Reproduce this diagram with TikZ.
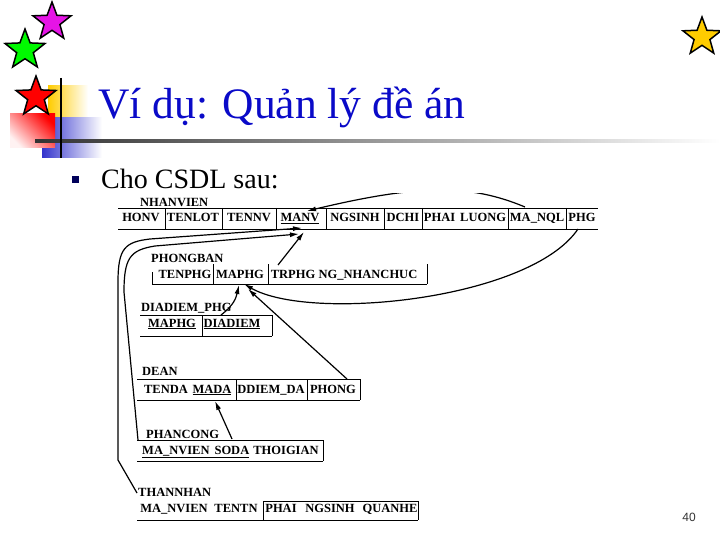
\documentclass[tikz,border=0pt]{standalone}
\usepackage{fontspec}
\setmainfont{Liberation Serif}
\newfontfamily\sansf{Liberation Sans}
\usetikzlibrary{shapes.geometric,arrows.meta}
\definecolor{titleblue}{RGB}{10,10,200}
\definecolor{decoyel}{RGB}{255,204,0}
\definecolor{decoblue}{RGB}{51,51,204}
\definecolor{starmag}{RGB}{230,20,230}
\definecolor{stargreen}{RGB}{0,250,0}
\definecolor{bulletnavy}{RGB}{0,0,90}
\newcommand\cellfont{\fontsize{12.5}{14}\selectfont\bfseries}
\begin{document}
\begin{tikzpicture}[x=1pt,y=-1pt,
  cell/.style={anchor=base, font=\cellfont, inner sep=0pt},
  ttl/.style={anchor=base west, font=\cellfont, inner sep=0pt},
  rule/.style={line width=0.9pt},
  fk/.style={line width=1.2pt, -{Latex[length=9pt,width=5pt]}},
  deco star/.style={star, star points=5, star point ratio=2.4, inner sep=0pt, draw=black, line width=1.5pt}]
\useasboundingbox (0,0) rectangle (720,540);

% decoration
\shade[left color=decoyel, middle color=decoyel!70, right color=white] (48,86) rectangle (88,118);
\shade[left color=decoblue, middle color=decoblue!80, right color=white] (42,118) rectangle (102,158);
\shade[top color=red, middle color=red!45, bottom color=red!5, shading angle=-45] (10,114) rectangle (55,148);
\shade[left color=black!80, right color=white] (35,139.5) rectangle (720,142.5);
\draw[line width=2.5pt] (61,78) -- (61,158);
\node[deco star, minimum size=40pt, fill=starmag] (s1) at (52,22) {};
\node[deco star, minimum size=42pt, fill=stargreen] (s2) at (25,50) {};
\node[deco star, minimum size=42pt, fill=red] (s3) at (36,97) {};
\node[deco star, minimum size=40pt, fill=decoyel] (s4) at (702,37) {};

% title and text
\node[anchor=base west, inner sep=0pt, text=titleblue, font=\fontsize{43.5}{48}\selectfont] (title) at (98,119) {Ví dụ: Quản lý đề án};
\fill[bulletnavy] (72,176) rectangle (79,183);
\node[anchor=base west, inner sep=0pt, font=\fontsize{28}{32}\selectfont] (intro) at (101,189) {Cho CSDL sau:};
\node[anchor=base east, inner sep=0pt, text=black!80, font=\sansf\fontsize{12}{14}\selectfont] (pg) at (696,521) {40};

% NHANVIEN
\node[ttl] (tNV) at (140,206.5) {NHANVIEN};
\draw[rule] (118,208) -- (598,208) (118,229) -- (598,229);
\foreach \x in {165,222,276,326,384,422,508,566} \draw[rule] (\x,208) -- (\x,229);
\node[cell] (nvHONV) at (141,222) {HONV};
\node[cell] (nvTENLOT) at (193,222) {TENLOT};
\node[cell] (nvTENNV) at (249,222) {TENNV};
\node[cell] (nvMANV) at (300,222) {\underline{MANV}};
\node[cell] (nvNGSINH) at (355,222) {NGSINH};
\node[cell] (nvDCHI) at (403,222) {DCHI};
\node[cell] (nvLUONG) at (465,222) {PHAI\hspace{5pt}LUONG};
\node[cell] (nvNQL) at (537,222) {MA\_NQL};
\node[cell] (nvPHG) at (582,222) {PHG};

% PHONGBAN
\node[ttl] (tPB) at (151,262.5) {PHONGBAN};
\draw[rule] (152,284) -- (427,284);
\draw[rule] (152,272) -- (152,284);
\foreach \x in {213,268,427} \draw[rule] (\x,264) -- (\x,284);
\node[cell] (pbTEN) at (185,278) {TENPHG};
\node[cell] (pbMA) at (240,278) {MAPHG};
\node[cell] (pbTR) at (293,278) {TRPHG};
\node[cell] (pbNG) at (368,278) {NG\_NHANCHUC};

% DIADIEM_PHG
\node[ttl] (tDD) at (141,311) {DIADIEM\_PHG};
\draw[rule] (140,315) -- (272,315) (140,336) -- (272,336);
\foreach \x in {202,272} \draw[rule] (\x,315) -- (\x,336);
\node[cell] (ddMA) at (172,327) {\underline{MAPHG}};
\node[cell] (ddDD) at (232,327) {\underline{DIADIEM}};

% DEAN
\node[ttl] (tDA) at (142,375) {DEAN};
\draw[rule] (137,379) -- (360,379) (137,400) -- (360,400);
\foreach \x in {236,307,360} \draw[rule] (\x,379) -- (\x,400);
\node[cell] (daTEN) at (166,393) {TENDA};
\node[cell] (daMA) at (212,393) {\underline{MADA}};
\node[cell] (daDD) at (271,393) {DDIEM\_DA};
\node[cell] (daPH) at (333,393) {PHONG};

% PHANCONG
\node[ttl] (tPC) at (146,438) {PHANCONG};
\draw[rule] (137,440) -- (323,440) (137,461) -- (323,461);
\draw[rule] (323,440) -- (323,461);
\node[ttl] (pcKEY) at (142,454) {\underline{MA\_NVIEN\hspace{5pt}SODA}};
\node[cell] (pcTG) at (286,454) {THOIGIAN};

% THANNHAN
\node[ttl] (tTN) at (138,496) {THANNHAN};
\draw[rule] (263,501) -- (418,501) (137,520) -- (418,520);
\foreach \x in {263,418} \draw[rule] (\x,501) -- (\x,520);
\node[cell] (tnMA) at (174,512) {MA\_NVIEN};
\node[cell] (tnTEN) at (236,512) {TENTN};
\node[cell] (tnPHAI) at (281,512) {PHAI};
\node[cell] (tnNG) at (330,512) {NGSINH};
\node[cell] (tnQH) at (390,512) {QUANHE};

% connector end points
\coordinate (nqlS) at (525,207);
\coordinate (manvT1) at (307,211);
\coordinate (phgS) at (578,229);
\coordinate (maphgT1) at (244,284);
\coordinate (trS) at (278,265);
\coordinate (manvT2) at (304,232);
\coordinate (thS) at (137,493);
\coordinate (manvT3) at (302,228);
\coordinate (pcS) at (138,440);
\coordinate (manvT4) at (299,234);
\coordinate (ddS) at (221,315);
\coordinate (maphgT2) at (239,285);
\coordinate (daS) at (347,379);
\coordinate (maphgT3) at (248,289);
\coordinate (pcS2) at (232,439);
\coordinate (madaT) at (215,401);

% connectors
\begin{scope}
\clip (0,194) rectangle (720,540);
\draw[fk] (nqlS) .. controls (470,184) and (420,184) .. (manvT1);
\end{scope}
\draw[fk] (phgS) .. controls (530,300) and (310,322) .. (maphgT1);
\draw[fk] (trS) -- (manvT2);
\draw[fk] (thS) -- (118,460) -- (118,282) .. controls (118,248) and (125,242) .. (150,239) -- (manvT3);
\draw[fk] (pcS) -- (124,292) .. controls (124,258) and (130,250) .. (155,246) -- (manvT4);
\draw[fk] (ddS) .. controls (234,305) and (236,298) .. (maphgT2);
\draw[fk] (daS) -- (maphgT3);
\draw[fk] (pcS2) -- (madaT);
\end{tikzpicture}
\end{document}
